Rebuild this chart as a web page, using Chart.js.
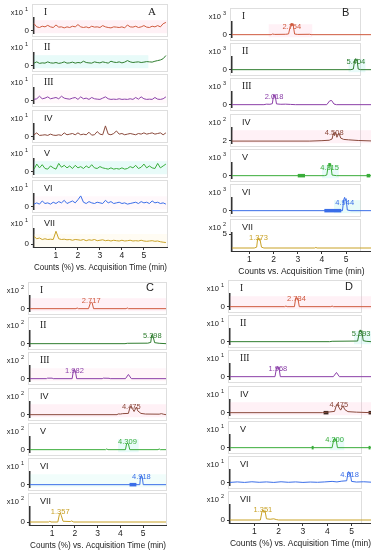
<!DOCTYPE html>
<html><head><meta charset="utf-8">
<script src="https://cdn.jsdelivr.net/npm/chart.js@4.4.0/dist/chart.umd.min.js"></script>
<style>
body{margin:0;background:#fff;width:371px;height:550px;position:relative;overflow:hidden;font-family:"Liberation Sans",Arial,sans-serif}
.box{position:absolute;border:1px solid #dedede;box-sizing:border-box;background:#fff}
canvas{position:absolute}
.lbl{position:absolute;white-space:nowrap;line-height:1;color:#222}
.lbl sup{font-size:5.5px;vertical-align:4px;margin-left:2px}
</style></head><body>
<script>
// rows and colours
var rows=['I','II','III','IV','V','VI','VII'];
var colors=['#cf5a3e','#2f7d2f','#8b3fa8','#8a4a3c','#3aad3a','#3a6ee8','#c9a227'];

// panel A - noise traces
var timesA=[0,0.125,0.25,0.375,0.5,0.625,0.75,0.875,1,1.125,1.25,1.375,1.5,1.625,1.75,1.875,2,2.125,2.25,2.375,2.5,2.625,2.75,2.875,3,3.125,3.25,3.375,3.5,3.625,3.75,3.875,4,4.125,4.25,4.375,4.5,4.625,4.75,4.875,5,5.125,5.25,5.375,5.5,5.625,5.75,5.875,6];
var sigA1=[0.55,0.3,0.25,0.35,0.3,0.42,0.3,0.25,0.45,0.28,0.3,0.22,0.3,0.25,0.35,0.3,0.48,0.3,0.25,0.3,0.22,0.35,0.28,0.3,0.25,0.4,0.3,0.25,0.22,0.3,0.28,0.25,0.3,0.22,0.45,0.3,0.28,0.35,0.25,0.3,0.4,0.28,0.25,0.35,0.3,0.4,0.3,0.55,0.65];
var sigA2=[0.2,0.3,0.18,0.22,0.2,0.3,0.22,0.2,0.25,0.18,0.22,0.3,0.2,0.22,0.28,0.2,0.25,0.22,0.35,0.25,0.22,0.2,0.3,0.25,0.22,0.3,0.25,0.2,0.35,0.28,0.25,0.3,0.22,0.28,0.4,0.3,0.25,0.28,0.3,0.25,0.28,0.32,0.3,0.28,0.35,0.4,0.45,0.55,0.8];
var sigA3=[0.1,0.15,0.35,0.15,0.2,0.3,0.15,0.2,0.25,0.15,0.35,0.2,0.15,0.12,0.2,0.25,0.1,0.3,0.15,0.2,0.1,0.25,0.15,0.12,0.1,0.2,0.3,0.15,0.1,0.12,0.1,0.15,0.1,0.12,0.1,0.15,0.1,0.25,0.12,0.3,0.15,0.1,0.12,0.1,0.25,0.12,0.1,0.15,0.3];
var sigA4=[0.15,0.3,0.1,0.12,0.15,0.1,0.2,0.12,0.1,0.15,0.1,0.3,0.15,0.2,0.25,0.15,0.3,0.15,0.2,0.15,0.35,0.12,0.15,0.4,0.2,0.15,0.85,0.2,0.15,0.25,0.45,0.2,0.25,0.15,0.2,0.25,0.2,0.15,0.25,0.2,0.3,0.2,0.25,0.3,0.2,0.25,0.3,0.15,0.3];
var sigA5=[0.2,0.6,0.3,0.55,0.25,0.2,0.45,0.3,0.2,0.65,0.35,0.5,0.3,0.45,0.25,0.5,0.3,0.4,0.25,0.45,0.3,0.55,0.3,0.25,0.4,0.3,0.25,0.2,0.3,0.2,0.25,0.2,0.3,0.2,0.25,0.4,0.3,0.5,0.25,0.35,0.6,0.3,0.45,0.3,0.25,0.65,0.3,0.45,0.6];
var sigA6=[0.2,0.3,0.2,0.45,0.25,0.3,0.2,0.35,0.25,0.4,0.3,0.5,0.25,0.35,0.45,0.3,0.55,0.85,0.35,0.25,0.4,0.3,0.25,0.35,0.3,0.25,0.5,0.3,0.4,0.25,0.3,0.35,0.25,0.3,0.2,0.25,0.3,0.35,0.25,0.4,0.3,0.35,0.25,0.45,0.3,0.35,0.25,0.3,0.2];
var sigA7=[0.5,0.35,0.4,0.3,0.35,0.3,0.32,0.3,0.85,0.35,0.3,0.32,0.28,0.3,0.25,0.3,0.28,0.25,0.3,0.22,0.28,0.25,0.3,0.22,0.25,0.28,0.22,0.25,0.2,0.25,0.22,0.2,0.25,0.2,0.22,0.25,0.2,0.22,0.2,0.25,0.2,0.18,0.2,0.22,0.18,0.2,0.15,0.12,0.1];

// panel B
var trB1=[[0.28,0],[1.9,0],[1.95,0.05],[2.05,0.02],[2.5,0.03],[2.62,0.06],[2.7,0.75],[2.73,0.9],[2.76,0.7],[2.8,0.88],[2.87,0.05],[3.0,0.02],[3.5,0.03],[3.55,0],[6.03,0]];
var trB2=[[0.28,0],[5.2,0],[5.3,0.05],[5.36,0.8],[5.39,0.87],[5.42,0.7],[5.45,0.85],[5.5,0.05],[5.6,0],[6.03,0]];
var trB3=[[0.28,0],[1.6,0],[1.7,0.04],[1.85,0.03],[1.95,0.08],[2.0,0.78],[2.03,0.65],[2.06,0.8],[2.12,0.06],[2.3,0.03],[2.5,0.04],[2.7,0.02],[2.9,0],[4.2,0],[4.32,0.3],[4.4,0.33],[4.5,0.05],[4.6,0],[6.03,0]];
var trB4=[[0.28,1.95],[3.5,1.95],[4.0,2.0],[4.3,2.05],[4.42,2.2],[4.48,2.95],[4.52,2.6],[4.56,3.0],[4.62,2.4],[4.7,2.9],[4.78,2.3],[4.9,2.15],[5.1,2.1],[5.5,2.02],[6.03,1.97]];
var trB5=[[0.28,0],[4.1,0],[4.2,0.05],[4.27,0.9],[4.3,1.0],[4.33,0.75],[4.36,0.95],[4.42,0.05],[4.6,0],[6.03,0]];
var trB6=[[0.28,0],[4.85,0],[4.9,0.85],[4.94,1.05],[4.97,0.8],[5.0,0.95],[5.05,0.05],[5.2,0],[6.03,0]];
var trB7=[[0.28,0],[1.2,0],[1.3,0.3],[1.34,3.3],[1.37,3.6],[1.4,2.8],[1.43,3.4],[1.5,0.3],[1.6,0],[3.7,0],[3.75,0.2],[3.8,0],[6.03,0]];
var peaksB=['2.754','5.404','2.018','4.508','4.315','4.944','1.373'];
var expB=[3,3,3,2,3,3,2];
var tickB=[0,0,0,2,0,0,5];
var marksB=[[],[],[],[],[[3.0,3.3],[5.85,6.0]],[[4.1,4.8]],[]];

// panel C
var trC1=[[0.03,0],[2.05,0],[2.1,0.06],[2.15,0],[2.6,0],[2.68,0.45],[2.72,0.53],[2.76,0.45],[2.82,0],[4.25,0],[4.3,0.06],[4.35,0],[6,0]];
var trC2=[[0.03,0],[4.2,0],[4.3,0.03],[5.2,0.04],[5.33,0.1],[5.37,0.65],[5.4,0.73],[5.43,0.6],[5.5,0.08],[5.7,0.03],[6,0]];
var trC3=[[0.03,0],[0.75,0],[0.8,0.04],[1.0,0.04],[1.05,0],[1.88,0],[1.94,0.7],[1.98,0.73],[2.02,0.6],[2.08,0],[3.2,0],[3.25,0.04],[3.5,0.03],[3.55,0],[4.22,0],[4.35,0.33],[4.48,0],[6,0]];
var trC4=[[0.03,0],[3.85,0],[3.9,0.06],[4.0,0.05],[4.1,0.08],[4.35,0.1],[4.42,0.6],[4.47,0.67],[4.52,0.5],[4.6,0.25],[4.7,0.6],[4.76,0.3],[4.9,0.1],[5.1,0.05],[5.7,0.04],[5.8,0.08],[5.9,0.03],[6,0]];
var trC5=[[0.03,0],[3.35,0],[3.4,0.06],[3.45,0],[4.22,0],[4.27,0.45],[4.31,0.53],[4.35,0.45],[4.41,0],[5.65,0],[5.7,0.06],[5.75,0],[6,0]];
var trC6=[[0.03,0],[4.85,0],[4.88,0.65],[4.92,0.73],[4.96,0.6],[5.0,0],[6,0]];
var trC7=[[0.03,0],[0.85,0],[0.9,0.05],[0.95,0],[1.25,0],[1.32,0.5],[1.36,0.6],[1.4,0.45],[1.48,0.05],[1.8,0.03],[1.85,0.07],[1.95,0],[6,0]];
var peaksC=['2.717','5.398','1.982','4.475','4.309','4.918','1.357'];
var expC=[2,2,2,2,2,1,2];
var tickC=[0,0,0,0,0,0,0];
var marksC=[[],[],[],[],[],[[4.4,4.7]],[]];

// panel D
var trD1=[[0,0],[2.25,0],[2.3,0.05],[2.35,0],[2.65,0],[2.7,0.65],[2.73,0.73],[2.76,0.55],[2.79,0.7],[2.85,0],[4.15,0],[4.2,0.05],[4.25,0],[5.8,0]];
var trD2=[[0,0],[4.1,0],[4.2,0.03],[5.25,0.05],[5.33,0.85],[5.36,0.93],[5.39,0.75],[5.42,0.88],[5.48,0.08],[5.6,0.03],[5.8,0]];
var trD3=[[0,0],[1.85,0],[1.92,0.75],[1.95,0.8],[1.98,0.6],[2.01,0.78],[2.07,0],[4.25,0],[4.38,0.33],[4.5,0],[5.8,0]];
var trD4=[[0,0],[3.8,0],[4.0,0.04],[4.3,0.1],[4.38,0.6],[4.42,0.67],[4.47,0.45],[4.55,0.2],[4.65,0.55],[4.72,0.25],[4.85,0.08],[5.2,0.04],[5.8,0]];
var trD5=[[0,0],[4.2,0],[4.27,0.65],[4.3,0.73],[4.33,0.55],[4.36,0.7],[4.42,0],[5.8,0]];
var trD6=[[0,0.02],[0.3,0.06],[0.6,0.02],[0.9,0.07],[1.2,0.03],[1.5,0.06],[1.8,0.02],[2.1,0.07],[2.4,0.03],[2.7,0.06],[3.0,0.02],[3.3,0.05],[3.6,0.03],[3.9,0.06],[4.2,0.1],[4.4,0.06],[4.6,0.12],[4.8,0.15],[4.85,0.75],[4.88,0.87],[4.91,0.7],[4.94,0.8],[5.0,0.1],[5.2,0.05],[5.5,0.07],[5.8,0.04]];
var trD7=[[0,0],[1.25,0],[1.32,0.6],[1.36,0.67],[1.4,0.5],[1.44,0.62],[1.5,0.08],[1.65,0.05],[1.8,0.08],[1.9,0.03],[2.0,0],[5.8,0]];
var peaksD=['2.734','5.393','1.968','4.475','4.300','4.918','1.351'];
var expD=[1,1,1,1,1,1,2];
var tickD=[0,0,0,0,0,0,0];
var marksD=[[],[],[],[[3.85,4.05],[5.7,5.8]],[[3.36,3.44],[5.7,5.78]],[],[]];

var expA=[1,1,1,1,1,1,1];
var tickA=[0,0,0,0,0,0,0];
var xTicks=[1,2,3,4,5];

function pts(a){return a.map(function(p){return {x:p[0],y:p[1]};});}
var tracesA=[sigA1,sigA2,sigA3,sigA4,sigA5,sigA6,sigA7].map(function(s){return timesA.map(function(t,i){return {x:t,y:s[i]};});});

var pink='rgba(255,170,200,0.16)', cyan='rgba(140,235,225,0.2)';
var panels=[
 {id:'A',left:0,width:185,plotL:34,plotR:167,xmin:0,xmax:6.05,base:33,traces:tracesA,peaks:null,exps:expA,ticks:tickA,marks:[[],[],[],[],[],[],[]],
  title:'Counts (%) vs. Acquisition Time (min)',letter:{x:148,y:6,serif:true},
  bands:[[0,6.05,pink],[0,5.2,cyan],[0,6.05,'rgba(255,190,220,0.1)'],null,[0,6.05,cyan],[0,6.05,'rgba(255,190,220,0.1)'],[0,6.05,'rgba(255,240,190,0.18)']],
  ranges:null},
 {id:'B',left:185,width:186,plotL:232,plotR:360,xmin:0.28,xmax:6.03,base:37,traces:[trB1,trB2,trB3,trB4,trB5,trB6,trB7].map(pts),peaks:peaksB,exps:expB,ticks:tickB,marks:marksB,
  title:'Counts vs. Acquisition Time (min)',letter:{x:342,y:7,serif:false},
  bands:[[1.8,3.6,pink],[5.1,5.8,cyan],null,[0.28,6.03,pink],[4.0,4.7,cyan],[4.5,5.6,cyan],null],
  ranges:[null,null,null,[1.7,3.5],null,null,[-1.07,5.36]]},
 {id:'C',left:0,width:185,plotL:30,plotR:166,xmin:0.03,xmax:6.0,base:311,traces:[trC1,trC2,trC3,trC4,trC5,trC6,trC7].map(pts),peaks:peaksC,exps:expC,ticks:tickC,marks:marksC,
  title:'Counts (%) vs. Acquisition Time (min)',letter:{x:146,y:282,serif:false},
  bands:[[0.03,6,pink],null,[0.03,6,'rgba(255,170,200,0.1)'],[0.03,6,pink],[3.9,4.8,cyan],[0.03,6,'rgba(140,235,225,0.12)'],null],
  ranges:null},
 {id:'D',left:185,width:186,plotL:230,plotR:361,xmin:0,xmax:5.8,base:309,traces:[trD1,trD2,trD3,trD4,trD5,trD6,trD7].map(pts),peaks:peaksD,exps:expD,ticks:tickD,marks:marksD,
  title:'Counts (%) vs. Acquisition Time (min)',letter:{x:345,y:281,serif:false},
  bands:[[0,5.8,pink],[5.1,5.8,cyan],null,[0,5.8,pink],[4.1,4.7,cyan],null,null],
  ranges:null}
];
var pitch=35.2;

function div(cls,css,html){var d=document.createElement('div');d.className=cls;d.style.cssText=css;d.innerHTML=html||'';document.body.appendChild(d);return d;}

var bandPlugin={id:'bands',beforeDatasetsDraw:function(c,a,o){
  if(!o.band)return;var ca=c.chartArea,xs=c.scales.x,ctx=c.ctx;
  var x0=xs.getPixelForValue(o.band[0]),x1=xs.getPixelForValue(o.band[1]);
  ctx.save();ctx.fillStyle=o.band[2];ctx.fillRect(x0,ca.bottom-13,x1-x0,13);ctx.restore();
}};
var peakPlugin={id:'peaklbl',afterDatasetsDraw:function(c,a,o){
  if(!o.text)return;var ctx=c.ctx,xs=c.scales.x;
  ctx.save();ctx.font='7.5px "Liberation Sans", Arial, sans-serif';ctx.fillStyle=o.color;
  ctx.textAlign='center';ctx.textBaseline='middle';
  ctx.fillText(o.text,xs.getPixelForValue(parseFloat(o.text)),c.chartArea.top+5);ctx.restore();
}};

panels.forEach(function(P){
  rows.forEach(function(r,i){
    var base=P.base+pitch*i;
    div('box','left:'+(P.plotL-2)+'px;top:'+(base-29)+'px;width:'+(P.plotR-P.plotL+3)+'px;height:33px');
  });
  rows.forEach(function(r,i){
    var base=P.base+pitch*i, last=(i===6);
    var H=last?51:29;
    var cv=document.createElement('canvas');
    cv.style.left=P.left+'px';cv.style.top=(base-22)+'px';
    cv.style.width=P.width+'px';cv.style.height=H+'px';
    cv.width=P.width;cv.height=H;
    document.body.appendChild(cv);
    var rg=(P.ranges&&P.ranges[i])||[-0.2,1.0];
    var ds=[{data:P.traces[i],borderColor:colors[i],borderWidth:1,pointRadius:0,tension:0,clip:false}];
    P.marks[i].forEach(function(m){
      ds.push({data:[{x:m[0],y:P.ticks[i]===2?1.95:0},{x:m[1],y:P.ticks[i]===2?1.95:0}],borderColor:i===3?'#3a2a22':colors[i],borderWidth:3.5,pointRadius:0,clip:false});
    });
    new Chart(cv,{
      type:'line',
      data:{datasets:ds},
      plugins:[bandPlugin,peakPlugin],
      options:{
        responsive:false,animation:false,events:[],
        layout:{padding:{top:7,bottom:last?0:4,left:0,right:P.width-P.plotR}},
        plugins:{legend:{display:false},tooltip:{enabled:false},
          bands:{band:P.bands[i]},
          peaklbl:{text:P.peaks?P.peaks[i]:null,color:colors[i]}},
        scales:{
          x:{type:'linear',min:P.xmin,max:P.xmax,display:last,
            afterFit:function(s){if(last)s.height=26;},
            afterBuildTicks:function(s){s.ticks=xTicks.map(function(v){return {value:v};});},
            border:{color:'#333',width:1},
            grid:{drawOnChartArea:false,tickLength:3,color:'#333'},
            ticks:{color:'#222',font:{size:8.5,family:'"Liberation Sans", Arial, sans-serif'},padding:1,maxRotation:0},
            title:{display:true,text:P.title,color:'#222',padding:{top:0,bottom:0},font:{size:8.5,family:'"Liberation Sans", Arial, sans-serif'}}},
          y:{min:rg[0],max:rg[1],
            afterFit:function(s){s.width=P.plotL-P.left;},
            afterBuildTicks:function(s){s.ticks=[{value:P.ticks[i]}];},
            border:{color:'#333',width:1.5},
            grid:{drawOnChartArea:false,tickLength:3,color:'#333'},
            ticks:{color:'#222',padding:2,font:{size:8,family:'"Liberation Sans", Arial, sans-serif'}}}
        }
      }
    });
    div('lbl','right:'+(371-P.plotL+6)+'px;top:'+(base-26)+'px;font-size:7.5px','x10<sup>'+P.exps[i]+'</sup>');
    var serif=i<3;
    div('lbl','left:'+(P.plotL+10)+'px;top:'+(base-25)+'px;font-size:'+(serif?9.5:9)+'px;font-family:'+(serif?'"Liberation Serif",serif':'"Liberation Sans",sans-serif'),r);
  });
  div('lbl','left:'+P.letter.x+'px;top:'+P.letter.y+'px;font-size:11px;font-family:'+(P.letter.serif?'"Liberation Serif",serif':'"Liberation Sans",sans-serif'),P.id);
});
</script>
</body></html>
